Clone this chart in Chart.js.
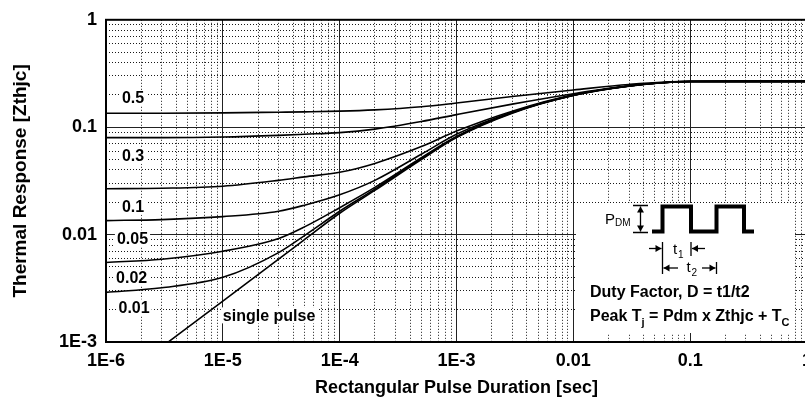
<!DOCTYPE html>
<html>
<head>
<meta charset="utf-8">
<script src="https://cdn.jsdelivr.net/npm/chart.js@4/dist/chart.umd.min.js"></script>
<style>
  html, body { margin: 0; padding: 0; background: #fff; overflow: hidden; }
</style>
</head>
<body>
<canvas id="chart" width="808" height="405"></canvas>
<script>
// pulse duration [sec] and Zthjc
const durations = [1e-6, 3e-6, 1e-5, 3e-5, 5e-5, 1e-4, 2e-4, 5e-4, 1e-3, 3e-3, 1e-2, 3e-2, 1e-1, 3e-1, 1];
const zth050 = [0.135, 0.135, 0.136, 0.138, 0.139, 0.141, 0.145, 0.155, 0.168, 0.193, 0.222, 0.250, 0.267, 0.267, 0.267];
const zth030 = [0.080, 0.080, 0.081, 0.084, 0.086, 0.089, 0.096, 0.113, 0.131, 0.164, 0.205, 0.243, 0.266, 0.267, 0.267];
const zth010 = [0.0267, 0.0270, 0.0282, 0.0320, 0.0345, 0.0380, 0.0460, 0.066, 0.092, 0.141, 0.200, 0.242, 0.266, 0.267, 0.267];
const zth005 = [0.0135, 0.0138, 0.0147, 0.0165, 0.0188, 0.0235, 0.0320, 0.056, 0.086, 0.138, 0.199, 0.242, 0.266, 0.267, 0.267];
const zth002 = [0.0055, 0.0059, 0.0070, 0.0092, 0.0118, 0.0178, 0.0275, 0.052, 0.082, 0.137, 0.198, 0.242, 0.266, 0.267, 0.267];
const zth001 = [0.0029, 0.0032, 0.0040, 0.0068, 0.0098, 0.0165, 0.0265, 0.051, 0.081, 0.136, 0.198, 0.242, 0.266, 0.267, 0.267];
const zthSingle = [null, 0.0009, 0.0024, 0.0059, 0.0090, 0.0158, 0.0258, 0.050, 0.080, 0.135, 0.197, 0.241, 0.266, 0.267, 0.267];

const seriesNames = ["0.5", "0.3", "0.1", "0.05", "0.02", "0.01", "single pulse"];
const seriesValues = [zth050, zth030, zth010, zth005, zth002, zth001, zthSingle];

const xDecades = [1e-6, 1e-5, 1e-4, 1e-3, 1e-2, 1e-1, 1];
const xTickLabels = ["1E-6", "1E-5", "1E-4", "1E-3", "0.01", "0.1", "1"];
const yDecades = [1e-3, 1e-2, 1e-1, 1];
const yTickLabels = ["1E-3", "0.01", "0.1", "1"];

const FONT = "'Liberation Sans', Arial, Helvetica, sans-serif";

// 1..9 x 10^n ticks between the decades, so the minor grid can be drawn
const logTicks = (decades) => {
  const out = [];
  decades.forEach((d, i) => {
    out.push({ value: d });
    if (i < decades.length - 1) {
      for (let m = 2; m <= 9; m++) out.push({ value: d * m });
    }
  });
  return out;
};

const isDecade = (v) => Math.abs(Math.log10(v) - Math.round(Math.log10(v))) < 1e-6;

const labelFor = (decades, labels) => (value) => {
  const i = decades.findIndex((d) => Math.abs(Math.log10(d) - Math.log10(value)) < 1e-6);
  return i >= 0 ? labels[i] : "";
};

const gridColor = (ctx) => (ctx.tick && isDecade(ctx.tick.value) ? "#222" : "rgba(0,0,0,0.9)");
const gridDash = (ctx) => (ctx.tick && isDecade(ctx.tick.value) ? [] : [1, 2]);

// text labels next to the curves, anchored in data coordinates
const curveLabels = [
  { text: "0.5", x: 1.37e-6, y: 0.187 },
  { text: "0.3", x: 1.37e-6, y: 0.0542 },
  { text: "0.1", x: 1.37e-6, y: 0.0182 },
  { text: "0.05", x: 1.24e-6, y: 0.00925 },
  { text: "0.02", x: 1.22e-6, y: 0.00396 },
  { text: "0.01", x: 1.28e-6, y: 0.0021 },
  { text: "single pulse", x: 1.0e-5, y: 0.00177 },
];

const arrow = (ctx, x1, y1, x2, y2) => {
  const a = Math.atan2(y2 - y1, x2 - x1);
  ctx.beginPath();
  ctx.moveTo(x1, y1);
  ctx.lineTo(x2, y2);
  ctx.stroke();
  ctx.beginPath();
  ctx.moveTo(x2, y2);
  ctx.lineTo(x2 - 6 * Math.cos(a) + 3.5 * Math.sin(a), y2 - 6 * Math.sin(a) - 3.5 * Math.cos(a));
  ctx.lineTo(x2 - 6 * Math.cos(a) - 3.5 * Math.sin(a), y2 - 6 * Math.sin(a) + 3.5 * Math.cos(a));
  ctx.closePath();
  ctx.fill();
};

const textWithSub = (ctx, x, y, parts, weight) => {
  parts.forEach(([t, sub]) => {
    ctx.font = sub ? `${weight} 11px ${FONT}` : `${weight} 16px ${FONT}`;
    ctx.fillText(t, x, sub ? y + 5 : y);
    x += ctx.measureText(t).width;
  });
};

const decorPlugin = {
  id: "decor",
  beforeDatasetsDraw(chart) {
    const ctx = chart.ctx;
    // white panel for the inset diagram
    ctx.save();
    ctx.fillStyle = "#fff";
    ctx.fillRect(576, 203, 219, 130);
    ctx.restore();
  },
  afterDatasetsDraw(chart) {
    const { ctx, chartArea: a, scales } = chart;
    ctx.save();

    // curve labels
    ctx.font = `bold 16px ${FONT}`;
    ctx.textBaseline = "middle";
    curveLabels.forEach((l) => {
      const px = scales.x.getPixelForValue(l.x);
      const py = scales.y.getPixelForValue(l.y);
      const w = ctx.measureText(l.text).width;
      ctx.fillStyle = "#fff";
      ctx.fillRect(px - 2, py - 8, w + 4, 16);
      ctx.fillStyle = "#000";
      ctx.fillText(l.text, px, py + 1);
    });

    // plot frame
    ctx.strokeStyle = "#000";
    ctx.lineWidth = 2;
    ctx.strokeRect(a.left, a.top, a.right - a.left, a.bottom - a.top);

    // pulse train sketch
    ctx.lineWidth = 4;
    ctx.lineJoin = "miter";
    ctx.beginPath();
    ctx.moveTo(652, 231.5);
    ctx.lineTo(662.5, 231.5);
    ctx.lineTo(662.5, 206.5);
    ctx.lineTo(691, 206.5);
    ctx.lineTo(691, 231.5);
    ctx.lineTo(716.5, 231.5);
    ctx.lineTo(716.5, 206.5);
    ctx.lineTo(744, 206.5);
    ctx.lineTo(744, 231.5);
    ctx.lineTo(754, 231.5);
    ctx.stroke();

    ctx.fillStyle = "#000";
    ctx.lineWidth = 1.3;
    // P_DM bracket
    ctx.beginPath();
    ctx.moveTo(633, 205.5); ctx.lineTo(648, 205.5);
    ctx.moveTo(633, 232.5); ctx.lineTo(648, 232.5);
    ctx.stroke();
    arrow(ctx, 640.5, 219, 640.5, 206.5);
    arrow(ctx, 640.5, 219, 640.5, 231.5);

    // t1 / t2 markers
    ctx.beginPath();
    ctx.moveTo(662.5, 242); ctx.lineTo(662.5, 274);
    ctx.moveTo(691, 242); ctx.lineTo(691, 256);
    ctx.moveTo(716.5, 262); ctx.lineTo(716.5, 274);
    ctx.stroke();
    arrow(ctx, 649, 248.5, 661.5, 248.5);
    arrow(ctx, 705, 248.5, 692, 248.5);
    arrow(ctx, 678, 268, 663.5, 268);
    arrow(ctx, 702, 268, 715.5, 268);

    ctx.textBaseline = "alphabetic";
    ctx.font = `15px ${FONT}`;
    ctx.fillText("P", 605, 223.5);
    ctx.font = `10px ${FONT}`;
    ctx.fillText("DM", 615, 226);
    ctx.font = `15px ${FONT}`;
    ctx.fillText("t", 673, 254);
    ctx.fillText("t", 686.5, 272);
    ctx.font = `10px ${FONT}`;
    ctx.fillText("1", 678, 258);
    ctx.fillText("2", 691.5, 276);

    // duty factor text
    textWithSub(ctx, 590, 297, [["Duty Factor, D = t1/t2", false]], "bold");
    textWithSub(ctx, 590, 321, [["Peak T", false], ["j", true], [" = Pdm x Zthjc + T", false], ["C", true]], "bold");

    ctx.restore();
  },
};

new Chart(document.getElementById("chart"), {
  type: "line",
  data: {
    datasets: seriesValues.map((vals, i) => ({
      label: seriesNames[i],
      data: durations.map((t, k) => ({ x: t, y: vals[k] })),
      borderColor: "#000",
      borderWidth: 1.6,
      pointRadius: 0,
      fill: false,
      cubicInterpolationMode: "monotone",
    })),
  },
  options: {
    responsive: false,
    animation: false,
    layout: { padding: { top: 16, right: 1, bottom: 0, left: 0 } },
    plugins: {
      legend: { display: false },
      tooltip: { enabled: false },
    },
    scales: {
      x: {
        type: "logarithmic",
        min: 1e-6,
        max: 1,
        afterBuildTicks: (s) => { s.ticks = logTicks(xDecades); },
        afterFit: (s) => { s.height = 63; s.paddingLeft = 0; s.paddingRight = 0; },
        border: { display: false, dash: gridDash },
        grid: { color: gridColor, lineWidth: 1, drawTicks: false },
        ticks: {
          callback: labelFor(xDecades, xTickLabels),
          autoSkip: false,
          maxRotation: 0,
          padding: 8,
          color: "#000",
          font: { family: FONT, size: 18, weight: "bold" },
        },
        title: {
          display: true,
          text: "Rectangular Pulse Duration [sec]",
          color: "#000",
          font: { family: FONT, size: 18, weight: "bold" },
          padding: { top: 0, bottom: 6 },
        },
      },
      y: {
        type: "logarithmic",
        min: 1e-3,
        max: 1,
        afterBuildTicks: (s) => { s.ticks = logTicks(yDecades); },
        afterFit: (s) => { s.width = 106; },
        border: { display: false, dash: gridDash },
        grid: { color: gridColor, lineWidth: 1, drawTicks: false },
        ticks: {
          callback: labelFor(yDecades, yTickLabels),
          autoSkip: false,
          padding: 9,
          color: "#000",
          font: { family: FONT, size: 18, weight: "bold" },
        },
        title: {
          display: true,
          text: "Thermal Response [Zthjc]",
          color: "#000",
          font: { family: FONT, size: 19, weight: "bold" },
          padding: { top: 9, bottom: 0 },
        },
      },
    },
  },
  plugins: [decorPlugin],
});
</script>
</body>
</html>
